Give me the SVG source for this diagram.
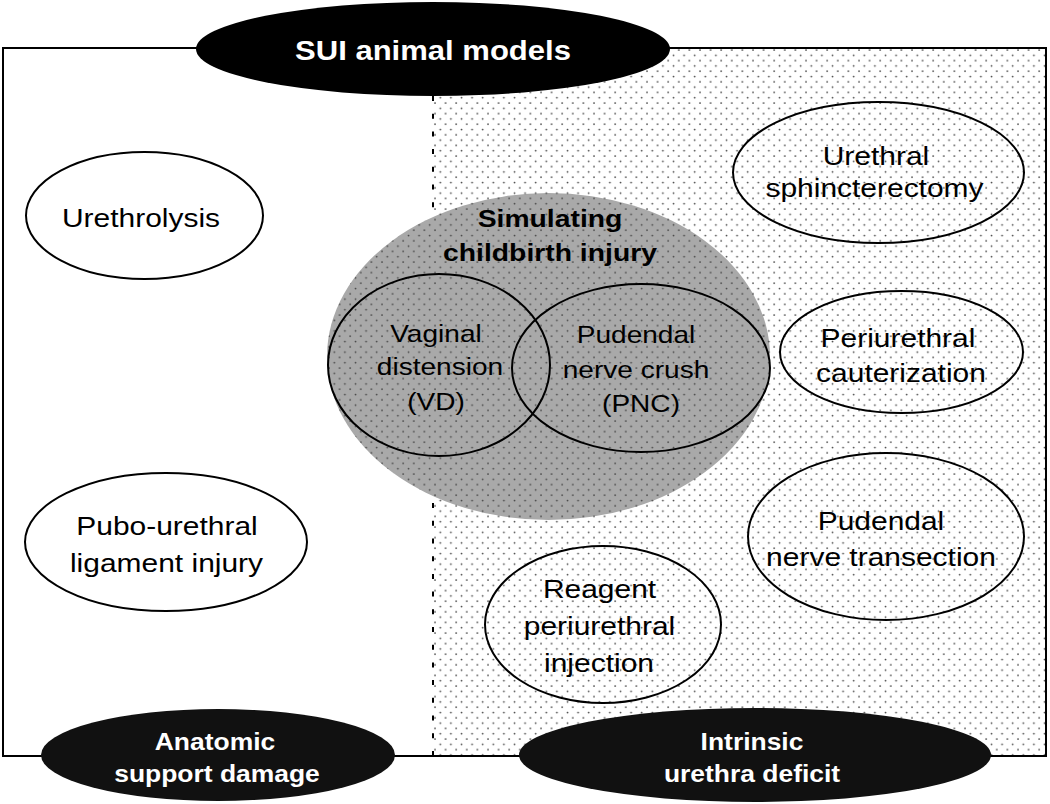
<svg xmlns="http://www.w3.org/2000/svg" width="1050" height="804" viewBox="0 0 1050 804">
<defs>
<pattern id="dots" x="433" y="48" width="10.6" height="10.6" patternUnits="userSpaceOnUse">
<circle cx="2" cy="2" r="0.9" fill="#444"/>
<circle cx="7.3" cy="7.3" r="0.9" fill="#444"/>
</pattern>
<style>
.t{font-family:"Liberation Sans",Arial,sans-serif;font-size:25.6px;fill:#000;text-anchor:middle}
.s{font-size:24px}
.b{font-family:"Liberation Sans",Arial,sans-serif;font-weight:bold;text-anchor:middle}
.w{fill:#fff}
.node{fill:none;stroke:#000;stroke-width:2}
.dark{fill:#111;stroke:none}
</style>
</defs>
<rect width="1050" height="804" fill="#fff"/>
<g id="frame">
<rect x="433" y="48" width="613" height="708" fill="url(#dots)"/>
<rect x="3" y="48" width="1043" height="708" fill="none" stroke="#000" stroke-width="2"/>
</g>
<g id="connectors">
<line x1="433" y1="96" x2="433" y2="756" stroke="#000" stroke-width="2" stroke-dasharray="5 12.7"/>
</g>
<g id="childbirth">
<ellipse cx="548.5" cy="356.5" rx="221.5" ry="163.5" fill="#a9a9a9"/>
<ellipse cx="548.5" cy="356.5" rx="221.5" ry="163.5" fill="url(#dots)"/>
<text class="b" font-size="24.2" transform="matrix(1.17 0 0 1 550 227)">Simulating</text>
<text class="b" font-size="24.2" transform="matrix(1.17 0 0 1 550 261)">childbirth injury</text>
</g>
<g id="vd">
<ellipse class="node" cx="439" cy="365" rx="111" ry="91"/>
<text class="t s" transform="matrix(1.17 0 0 1 436 342)">Vaginal</text>
<text class="t s" transform="matrix(1.17 0 0 1 440 375)">distension</text>
<text class="t s" transform="matrix(1.17 0 0 1 436 410)">(VD)</text>
</g>
<g id="pnc">
<ellipse class="node" cx="641" cy="368" rx="129" ry="84"/>
<text class="t s" transform="matrix(1.17 0 0 1 636 343)">Pudendal</text>
<text class="t s" transform="matrix(1.17 0 0 1 636 378)">nerve crush</text>
<text class="t s" transform="matrix(1.17 0 0 1 641 412)">(PNC)</text>
</g>
<g id="urethrolysis">
<ellipse class="node" cx="144.5" cy="215.5" rx="118.5" ry="63.5"/>
<text class="t" transform="matrix(1.17 0 0 1 141 227)">Urethrolysis</text>
</g>
<g id="pubo">
<ellipse class="node" cx="166" cy="542" rx="141" ry="69"/>
<text class="t" transform="matrix(1.17 0 0 1 167 535)">Pubo-urethral</text>
<text class="t" transform="matrix(1.17 0 0 1 166.5 572)">ligament injury</text>
</g>
<g id="sphincterectomy">
<ellipse class="node" cx="878.5" cy="172.5" rx="145.5" ry="70.5"/>
<text class="t" transform="matrix(1.17 0 0 1 876 165)">Urethral</text>
<text class="t" transform="matrix(1.17 0 0 1 874.5 197)">sphincterectomy</text>
</g>
<g id="cauterization">
<ellipse class="node" cx="901.5" cy="352" rx="121.5" ry="61"/>
<text class="t" transform="matrix(1.17 0 0 1 898 347)">Periurethral</text>
<text class="t" transform="matrix(1.17 0 0 1 901 382)">cauterization</text>
</g>
<g id="transection">
<ellipse class="node" cx="886" cy="536.5" rx="138" ry="83.5"/>
<text class="t" transform="matrix(1.17 0 0 1 881 530)">Pudendal</text>
<text class="t" transform="matrix(1.17 0 0 1 881 566)">nerve transection</text>
</g>
<g id="injection">
<ellipse class="node" cx="603" cy="624.5" rx="118" ry="78.5"/>
<text class="t" transform="matrix(1.17 0 0 1 599.5 598)">Reagent</text>
<text class="t" transform="matrix(1.17 0 0 1 599.5 635)">periurethral</text>
<text class="t" transform="matrix(1.17 0 0 1 599 672)">injection</text>
</g>
<g id="title">
<ellipse cx="433" cy="49" rx="237" ry="47" fill="#000"/>
<text class="b w" font-size="27" transform="matrix(1.15 0 0 1 433 60)">SUI animal models</text>
</g>
<g id="anatomic">
<ellipse class="dark" cx="218" cy="755" rx="177" ry="46"/>
<text class="b w" font-size="23" transform="matrix(1.15 0 0 1 215 750)">Anatomic</text>
<text class="b w" font-size="23" transform="matrix(1.15 0 0 1 217 782)">support damage</text>
</g>
<g id="intrinsic">
<ellipse class="dark" cx="755" cy="755" rx="236" ry="47"/>
<text class="b w" font-size="23" transform="matrix(1.15 0 0 1 752 750)">Intrinsic</text>
<text class="b w" font-size="23" transform="matrix(1.15 0 0 1 752 782)">urethra deficit</text>
</g>
</svg>
